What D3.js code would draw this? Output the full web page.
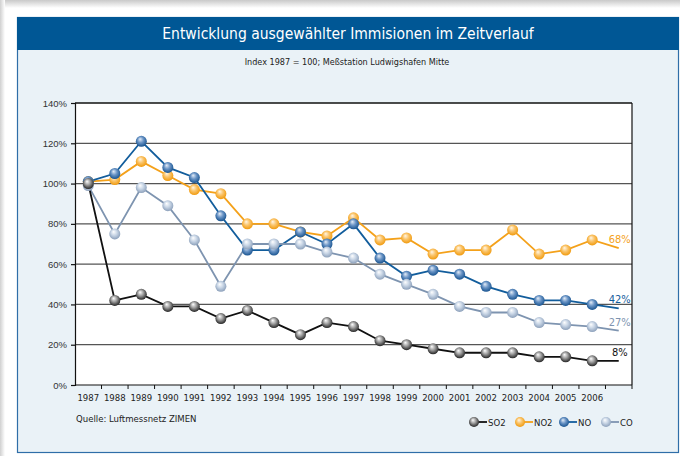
<!DOCTYPE html>
<html>
<head>
<meta charset="UTF-8">
<title>Immisionen</title>
<style>
  body { margin: 0; background: #fff; }
  svg { display: block; font-family: "Liberation Sans Narrow", "DejaVu Sans Condensed", "Liberation Sans", sans-serif; }
</style>
</head>
<body>
<div class="svg-zone"></div>
<script src="https://cdn.jsdelivr.net/npm/d3@7/dist/d3.min.js"></script>
<script>
// Index 1987 = 100
var years = ["1987","1988","1989","1990","1991","1992","1993","1994","1995","1996",
             "1997","1998","1999","2000","2001","2002","2003","2004","2005","2006"];
var so2 = [100,42,45,39,39,33,37,31,25,31,29,22,20,18,16,16,16,14,14,12];
var no2 = [101,102,111,104,97,95,80,80,76,74,83,72,73,65,67,67,77,65,67,72];
var no  = [101,105,121,108,103,84,67,67,76,70,80,63,54,57,55,49,45,42,42,40];
var co  = [99,75,98,89,72,49,70,70,70,66,63,55,50,45,39,36,36,31,30,29];
// last segment (no marker) and its label
var endValues = { SO2: 12, NO2: 68, NO: 38, CO: 27 };
var endLabels = { SO2: "8%", NO2: "68%", NO: "42%", CO: "27%" };
var yTicks = [0, 20, 40, 60, 80, 100, 120, 140];

var series = [
  { name: "NO2", values: no2, line: "#f4a11a", grad: ["#fff6e6", "#fac46a", "#ef9400"] },
  { name: "NO",  values: no,  line: "#125d9c", grad: ["#e6eef8", "#6b95c6", "#0c4a88"] },
  { name: "CO",  values: co,  line: "#7e94b0", grad: ["#ffffff", "#c9d6e6", "#8398b4"] },
  { name: "SO2", values: so2, line: "#111111", grad: ["#ffffff", "#9c9c9c", "#141414"] }
];
var legendOrder = ["SO2", "NO2", "NO", "CO"];

var width = 680, height = 456;
var mLeft = 75, mRight = 632, mTop = 103, mBottom = 385;

var svg = d3.select(".svg-zone").append("svg")
  .attr("width", width).attr("height", height);
var defs = svg.append("defs");

// page shadow
var sh = defs.append("linearGradient").attr("id", "shTop").attr("x1", 0).attr("y1", 0).attr("x2", 0).attr("y2", 1);
sh.append("stop").attr("offset", "0%").attr("stop-color", "#c9c9c9");
sh.append("stop").attr("offset", "100%").attr("stop-color", "#fff");
var sl = defs.append("linearGradient").attr("id", "shLeft").attr("x1", 0).attr("y1", 0).attr("x2", 1).attr("y2", 0);
sl.append("stop").attr("offset", "0%").attr("stop-color", "#d0d0d0");
sl.append("stop").attr("offset", "100%").attr("stop-color", "#fff");
svg.append("rect").attr("x", 0).attr("y", 0).attr("width", width).attr("height", 8).attr("fill", "url(#shTop)");
svg.append("rect").attr("x", 0).attr("y", 0).attr("width", 5).attr("height", height).attr("fill", "url(#shLeft)");

// panel
svg.append("rect").attr("x", 17.5).attr("y", 17.5).attr("width", 661).attr("height", 435)
  .attr("fill", "#eaf2f7").attr("stroke", "#2f6ea8").attr("stroke-width", 1.2);
svg.append("rect").attr("x", 17).attr("y", 17).attr("width", 662).attr("height", 33).attr("fill", "#005795");

svg.append("text").attr("x", 348).attr("y", 39).attr("text-anchor", "middle")
  .attr("fill", "#fff").attr("font-size", 15.5).text("Entwicklung ausgewählter Immisionen im Zeitverlauf");
svg.append("text").attr("x", 347).attr("y", 65).attr("text-anchor", "middle")
  .attr("fill", "#222").attr("font-size", 9).text("Index 1987 = 100; Meßstation Ludwigshafen Mitte");

// scales
var x = d3.scaleBand().domain(years.concat(["end"])).range([mLeft, mRight]);
var y = d3.scaleLinear().domain([0, 140]).range([mBottom, mTop]);
var cx = function (k) { return x(k) + x.bandwidth() / 2; };

svg.append("rect").attr("x", mLeft).attr("y", mTop).attr("width", mRight - mLeft).attr("height", mBottom - mTop).attr("fill", "#fff");

// grid
svg.append("g").selectAll("line").data(yTicks.slice(1)).enter().append("line")
  .attr("x1", mLeft).attr("x2", mRight).attr("y1", function (d) { return y(d); }).attr("y2", function (d) { return y(d); })
  .attr("stroke", function (d) { return d == 140 ? "#111" : "#555"; }).attr("stroke-width", 1.3);
svg.append("line").attr("x1", mRight).attr("x2", mRight).attr("y1", mTop).attr("y2", mBottom)
  .attr("stroke", "#111").attr("stroke-width", 1.2);

// y axis
var yAxis = d3.axisLeft(y).tickValues(yTicks).tickSize(4).tickPadding(4)
  .tickFormat(function (d) { return d + "%"; });
var gy = svg.append("g").attr("transform", "translate(" + mLeft + ",0)").call(yAxis);
gy.selectAll("text").attr("font-size", 9.5).attr("fill", "#333").attr("font-family", null);
gy.selectAll("path, line").attr("stroke", "#111").attr("stroke-width", 1.2);

// x axis: ticks at band edges, labels at band centers
var gx = svg.append("g").attr("transform", "translate(0," + mBottom + ")");
gx.append("line").attr("x1", mLeft).attr("x2", mRight).attr("stroke", "#111").attr("stroke-width", 1.2);
gx.selectAll(".tk").data(years.concat(["end"])).enter().append("line")
  .attr("x1", function (d) { return x(d) + x.bandwidth(); })
  .attr("x2", function (d) { return x(d) + x.bandwidth(); })
  .attr("y1", 0).attr("y2", 4).attr("stroke", "#111");
gx.selectAll("text").data(years).enter().append("text")
  .attr("x", function (d) { return cx(d); }).attr("y", 16)
  .attr("text-anchor", "middle").attr("font-size", 9.5).attr("fill", "#222")
  .text(function (d) { return d; });

// sphere gradients
series.forEach(function (s) {
  var g = defs.append("radialGradient").attr("id", "g" + s.name)
    .attr("cx", "50%").attr("cy", "45%").attr("r", "60%").attr("fx", "38%").attr("fy", "30%");
  g.append("stop").attr("offset", "0%").attr("stop-color", s.grad[0]);
  g.append("stop").attr("offset", "45%").attr("stop-color", s.grad[1]);
  g.append("stop").attr("offset", "100%").attr("stop-color", s.grad[2]);
});

var line = d3.line().x(function (d) { return cx(d.k); }).y(function (d) { return y(d.v); });

series.forEach(function (s) {
  var pts = s.values.map(function (v, i) { return { k: years[i], v: v }; });
  pts.push({ k: "end", v: endValues[s.name] });
  svg.append("path").datum(pts).attr("d", line)
    .attr("fill", "none").attr("stroke", s.line).attr("stroke-width", 1.8);
});
series.forEach(function (s) {
  svg.append("g").selectAll("circle").data(s.values).enter().append("circle")
    .attr("cx", function (d, i) { return cx(years[i]); })
    .attr("cy", function (d) { return y(d); })
    .attr("r", 5.5).attr("fill", "url(#g" + s.name + ")");
  svg.append("text").attr("x", cx("end") + 1).attr("y", y(endValues[s.name]) - 5)
    .attr("text-anchor", "middle").attr("font-size", 11)
    .attr("fill", s.line).text(endLabels[s.name]);
});

// source + legend
svg.append("text").attr("x", 76).attr("y", 422).attr("font-size", 9.5).attr("fill", "#222")
  .text("Quelle: Luftmessnetz ZIMEN");
var legX = { SO2: 474, NO2: 520, NO: 564, CO: 606 };
legendOrder.forEach(function (n) {
  var s = series.filter(function (d) { return d.name == n; })[0];
  var lg = svg.append("g").attr("transform", "translate(" + legX[n] + ",422)");
  lg.append("line").attr("x1", 0).attr("x2", 13).attr("stroke", s.line).attr("stroke-width", 1.8);
  lg.append("circle").attr("r", 5).attr("fill", "url(#g" + n + ")");
  lg.append("text").attr("x", 14).attr("y", 3.5).attr("font-size", 9.5).attr("fill", "#222").text(n);
});
</script>
</body>
</html>
